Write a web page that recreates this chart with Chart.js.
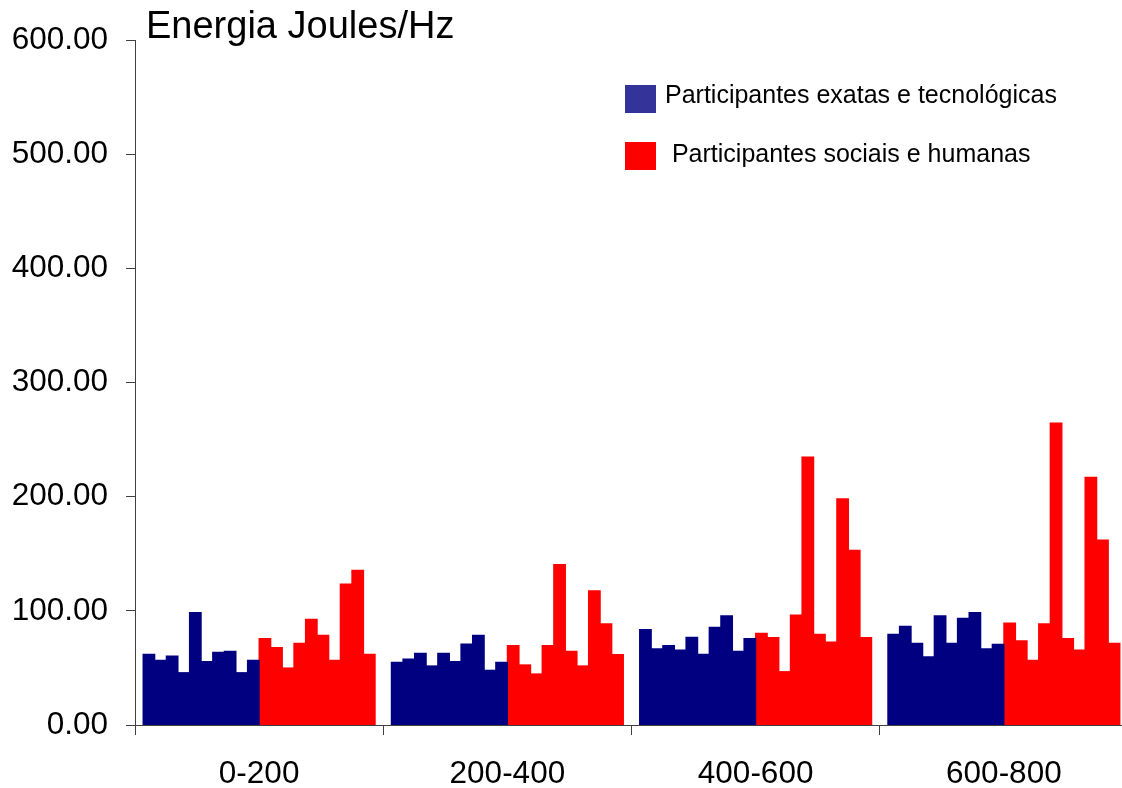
<!DOCTYPE html>
<html>
<head>
<meta charset="utf-8">
<script src="https://cdn.jsdelivr.net/npm/chart.js@4/dist/chart.umd.min.js"></script>
<style>
  html, body { margin: 0; padding: 0; background: #fff; overflow: hidden; width: 1122px; height: 788px; }
  #wrap { position: absolute; left: 0; top: 0; width: 1132px; height: 788px; }
</style>
</head>
<body>
<div id="wrap"><canvas id="c" width="1132" height="788"></canvas></div>
<script>
// ---- data ----
const categories = ['0-200', '200-400', '400-600', '600-800'];
const yTickValues = [0, 100, 200, 300, 400, 500, 600];
const titleText = 'Energia Joules/Hz';
const legendLabels = ['Participantes exatas e tecnológicas', ' Participantes sociais e humanas'];

// Participants (10 per group) per frequency band
const exatas_0_200   = [61.9, 56.7, 60.4, 45.8, 98.4, 55.5, 63.7, 64.5, 45.8, 56.7];
const exatas_200_400 = [54.9, 57.8, 62.8, 51.7, 62.8, 55.5, 70.9, 78.5, 47.9, 54.9];
const exatas_400_600 = [83.5, 66.8, 69.5, 65.7, 76.8, 61.9, 85.5, 95.5, 64.5, 75.6];
const exatas_600_800 = [79.4, 86.4, 71.5, 59.6, 95.5, 71.5, 93.4, 98.4, 66.6, 70.7];

const sociais_0_200   = [75.6, 67.7, 49.9, 71.5, 92.5, 78.5, 56.7, 123.5, 135.5, 61.9];
const sociais_200_400 = [69.5, 52.6, 44.7, 69.5, 140.4, 64.5, 51.7, 117.4, 88.5, 61.6];
const sociais_400_600 = [80.3, 76.5, 46.7, 96.3, 234.7, 79.4, 72.7, 198.0, 153.0, 76.5];
const sociais_600_800 = [89.3, 73.6, 56.7, 88.5, 264.5, 75.6, 65.7, 217.0, 162.0, 71.5];

// ---- styles ----
const barBlue = '#000080';
const barRed = '#FF0000';
const legendColors = ['#333399', '#FF0000'];
const axisColor = '#404040';
const FONT = '"Liberation Sans", Arial, Helvetica, sans-serif';

const exatasBands = [exatas_0_200, exatas_200_400, exatas_400_600, exatas_600_800];
const sociaisBands = [sociais_0_200, sociais_200_400, sociais_400_600, sociais_600_800];

const datasets = [];
function addSeries(bands, prefix, color) {
  for (let i = 0; i < 10; i++) {
    datasets.push({
      label: prefix + ' ' + (i + 1),
      data: bands.map(b => b[i]),
      backgroundColor: color,
      borderWidth: 0,
      inflateAmount: 0.6,
      barPercentage: 1.0,
      categoryPercentage: 0.9345
    });
  }
}
addSeries(exatasBands, 'Exatas', barBlue);
addSeries(sociaisBands, 'Sociais', barRed);

const overlay = {
  id: 'overlay',
  afterDraw(chart) {
    const ctx = chart.ctx;
    ctx.save();
    ctx.fillStyle = '#000';
    ctx.textBaseline = 'alphabetic';
    ctx.textAlign = 'left';
    ctx.font = '38px ' + FONT;
    ctx.fillText(titleText, 146, 38);
    // legend
    const boxes = [{ y: 85, tx: 665, ty: 103 }, { y: 142, tx: 665, ty: 162 }];
    ctx.font = '25px ' + FONT;
    legendLabels.forEach((lab, i) => {
      ctx.fillStyle = legendColors[i];
      ctx.fillRect(625, boxes[i].y, 31, 28);
      ctx.fillStyle = '#000';
      ctx.fillText(lab, boxes[i].tx, boxes[i].ty);
    });
    ctx.restore();
  }
};

new Chart(document.getElementById('c'), {
  type: 'bar',
  data: { labels: categories, datasets: datasets },
  options: {
    responsive: false,
    animation: false,
    devicePixelRatio: 1,
    layout: { padding: { top: 40, left: 0, right: 4, bottom: 0 } },
    plugins: { legend: { display: false }, tooltip: { enabled: false }, title: { display: false } },
    scales: {
      x: {
        type: 'category',
        offset: true,
        grid: { offset: true, drawOnChartArea: false, drawTicks: true, tickLength: 10, color: axisColor, lineWidth: 1 },
        border: { display: true, color: axisColor, width: 1 },
        ticks: { color: '#000', font: { family: FONT, size: 31.5 }, padding: 20, maxRotation: 0 },
        afterFit(scale) { scale.height = 63; }
      },
      y: {
        min: 0,
        max: 600,
        afterBuildTicks(scale) { scale.ticks = yTickValues.map(v => ({ value: v })); },
        grid: { drawOnChartArea: false, drawTicks: true, tickLength: 9, color: axisColor, lineWidth: 1 },
        border: { display: true, color: axisColor, width: 1 },
        ticks: { color: '#000', font: { family: FONT, size: 31.5 }, padding: 18, callback: v => Number(v).toFixed(2) },
        afterFit(scale) { scale.width = 135; }
      }
    }
  },
  plugins: [overlay]
});
</script>
</body>
</html>
